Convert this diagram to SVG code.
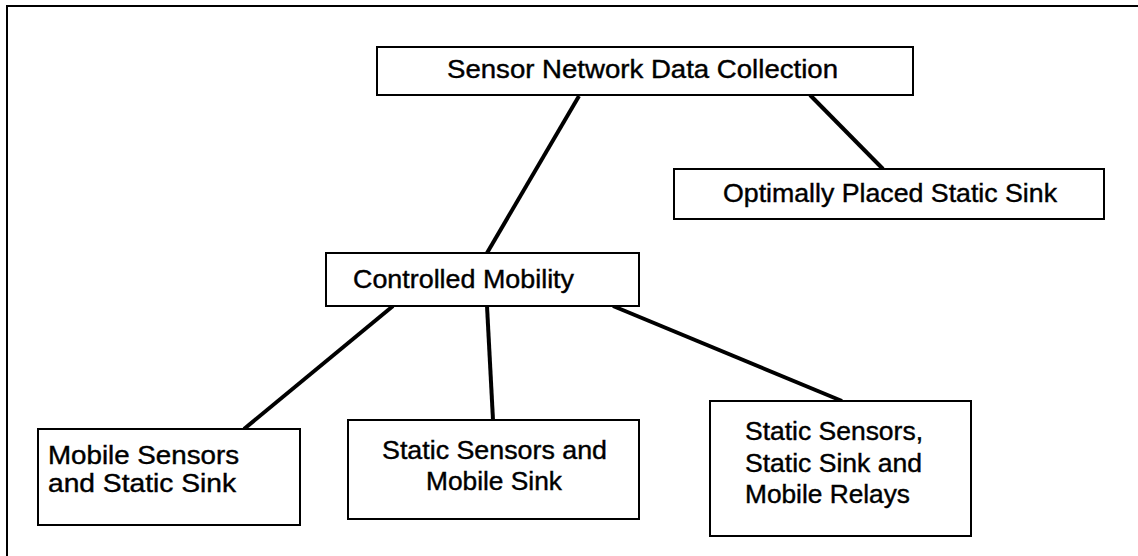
<svg xmlns="http://www.w3.org/2000/svg" width="1138" height="556" viewBox="0 0 1138 556">
  <style>
    .box { fill: #ffffff; stroke: #000000; stroke-width: 2; }
    .frame { fill: none; stroke: #000000; stroke-width: 2; }
    .link { stroke: #000000; stroke-width: 4; stroke-linecap: butt; fill: none; }
    .lbl { font-family: "Liberation Sans", Arial, sans-serif; font-size: 25px; fill: #000000; stroke: #000000; stroke-width: 0.4; }
  </style>
  <rect width="1138" height="556" fill="#ffffff"/>
  <!-- outer frame (top and left edges) -->
  <path class="frame" d="M7,556 V6 H1138"/>

  <g id="connectors">
    <line class="link" x1="579" y1="96" x2="487" y2="253"/>
    <line class="link" x1="810" y1="95" x2="883" y2="169"/>
    <line class="link" x1="393" y1="306" x2="244" y2="429"/>
    <line class="link" x1="487" y1="306" x2="493" y2="420"/>
    <line class="link" x1="613" y1="306" x2="842" y2="401"/>
  </g>

  <g id="root">
    <rect class="box" x="377" y="47" width="536" height="48"/>
    <text class="lbl" x="447" y="78" textLength="391" lengthAdjust="spacingAndGlyphs">Sensor Network Data Collection</text>
  </g>

  <g id="optimal-sink">
    <rect class="box" x="674" y="169" width="430" height="50"/>
    <text class="lbl" x="723" y="202" textLength="334" lengthAdjust="spacingAndGlyphs">Optimally Placed Static Sink</text>
  </g>

  <g id="controlled-mobility">
    <rect class="box" x="326" y="253" width="313" height="53"/>
    <text class="lbl" x="353" y="288" textLength="221" lengthAdjust="spacingAndGlyphs">Controlled Mobility</text>
  </g>

  <g id="mobile-sensors">
    <rect class="box" x="38" y="429" width="262" height="96"/>
    <text class="lbl" x="48" y="464" textLength="191" lengthAdjust="spacingAndGlyphs">Mobile Sensors</text>
    <text class="lbl" x="48" y="492" textLength="188" lengthAdjust="spacingAndGlyphs">and Static Sink</text>
  </g>

  <g id="mobile-sink">
    <rect class="box" x="348" y="420" width="291" height="99"/>
    <text class="lbl" x="382" y="459" textLength="225" lengthAdjust="spacingAndGlyphs">Static Sensors and</text>
    <text class="lbl" x="426" y="490" textLength="136" lengthAdjust="spacingAndGlyphs">Mobile Sink</text>
  </g>

  <g id="mobile-relays">
    <rect class="box" x="710" y="401" width="261" height="135"/>
    <text class="lbl" x="745" y="440" textLength="178" lengthAdjust="spacingAndGlyphs">Static Sensors,</text>
    <text class="lbl" x="745" y="472" textLength="177" lengthAdjust="spacingAndGlyphs">Static Sink and</text>
    <text class="lbl" x="745" y="503" textLength="165" lengthAdjust="spacingAndGlyphs">Mobile Relays</text>
  </g>
</svg>
